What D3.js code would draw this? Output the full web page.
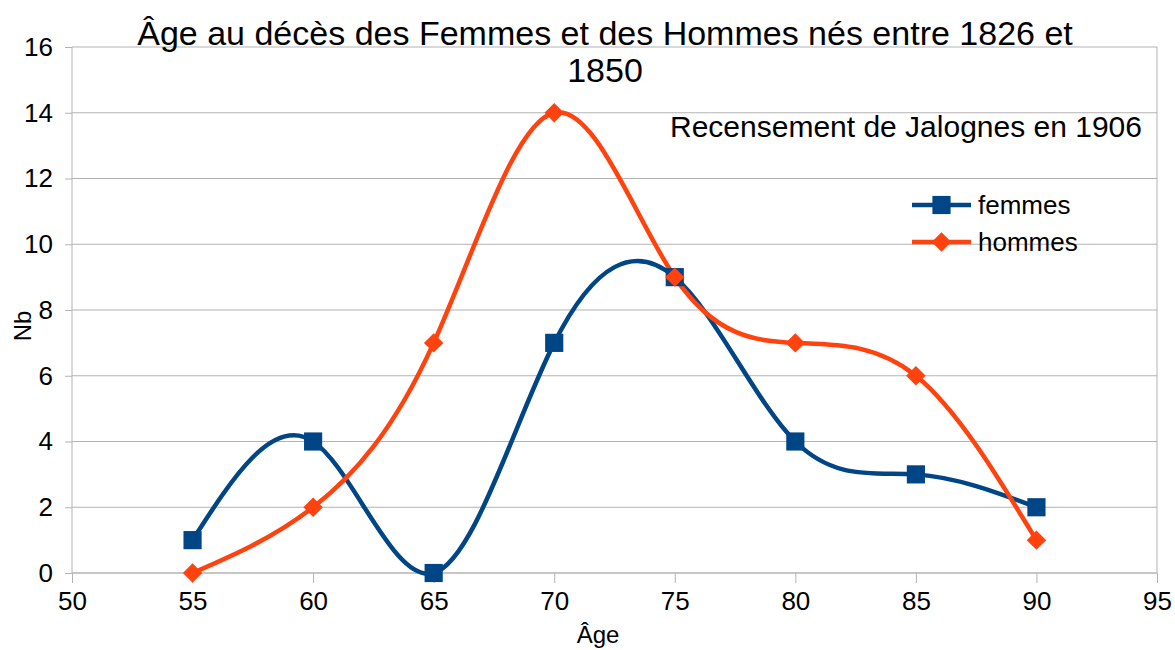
<!DOCTYPE html>
<html>
<head>
<meta charset="utf-8">
<script src="https://cdn.jsdelivr.net/npm/d3@7"></script>
<style>
  body { margin: 0; background: #fff; }
  text { font-family: "Liberation Sans", Arial, sans-serif; fill: #000; }
</style>
</head>
<body>
<svg id="chart" width="1175" height="650"></svg>
<script>
const ages = [55, 60, 65, 70, 75, 80, 85, 90];
const femmes = [1, 4, 0, 7, 9, 4, 3, 2];
const hommes = [0, 2, 7, 14, 9, 7, 6, 1];
const xTicks = [50, 55, 60, 65, 70, 75, 80, 85, 90, 95];
const yTicks = [0, 2, 4, 6, 8, 10, 12, 14, 16];
const titleLines = ["Âge au décès des Femmes et des Hommes nés entre 1826 et", "1850"];
const subtitle = "Recensement de Jalognes en 1906";

const svg = d3.select("svg#chart");

// plot area
const padding = { top: 47, right: 18, bottom: 77, left: 72 };
const chartArea = {
  width: +svg.attr("width") - padding.left - padding.right,
  height: +svg.attr("height") - padding.top - padding.bottom
};

const xScale = d3.scaleLinear().domain([50, 95]).range([0, chartArea.width]);
const yScale = d3.scaleLinear().domain([0, 16]).range([chartArea.height, 0]);

const g = svg.append("g")
  .attr("transform", `translate(${padding.left}, ${padding.top})`);

// gridlines
g.append("g")
  .selectAll("line")
  .data(yTicks)
  .enter()
  .append("line")
  .attr("x1", 0)
  .attr("x2", chartArea.width)
  .attr("y1", d => yScale(d))
  .attr("y2", d => yScale(d))
  .attr("stroke", "#b3b3b3")
  .attr("stroke-width", 1);

// right border
g.append("line")
  .attr("x1", chartArea.width).attr("x2", chartArea.width)
  .attr("y1", 0).attr("y2", chartArea.height)
  .attr("stroke", "#b3b3b3");

// axes
const xAxis = g.append("g")
  .attr("transform", `translate(0, ${chartArea.height})`)
  .call(d3.axisBottom(xScale).tickValues(xTicks).tickSize(10).tickPadding(9).tickFormat(d3.format("d")));

const yAxis = g.append("g")
  .call(d3.axisLeft(yScale).tickValues(yTicks).tickSize(7).tickPadding(12).tickFormat(d3.format("d")));

[xAxis, yAxis].forEach(a => {
  a.select(".domain").attr("stroke", "#b3b3b3");
  a.selectAll(".tick line").attr("stroke", "#b3b3b3");
  a.selectAll(".tick text").style("font-size", "26px").attr("fill", "#000");
});
xAxis.select(".domain").attr("d", `M0,0H${chartArea.width}`);
yAxis.select(".domain").attr("d", `M0,0V${chartArea.height}`);

// lines
const diamond = d3.symbol().type(d3.symbolSquare).size(190);
const series = [
  { name: "femmes", values: femmes, color: "#004586", marker: d3.symbol().type(d3.symbolSquare).size(330), rot: 0 },
  { name: "hommes", values: hommes, color: "#ff420e", marker: diamond, rot: 45 }
];

const line = d3.line()
  .x(d => xScale(d[0]))
  .y(d => yScale(d[1]))
  .curve(d3.curveNatural);

series.forEach(s => {
  const pts = ages.map((a, i) => [a, s.values[i]]);
  g.append("path")
    .datum(pts)
    .attr("d", line)
    .attr("fill", "none")
    .attr("stroke", s.color)
    .attr("stroke-width", 4.5);
});

series.forEach(s => {
  const pts = ages.map((a, i) => [a, s.values[i]]);
  g.append("g")
    .selectAll("path")
    .data(pts)
    .enter()
    .append("path")
    .attr("d", s.marker)
    .attr("transform", d => `translate(${xScale(d[0])}, ${yScale(d[1])}) rotate(${s.rot})`)
    .attr("fill", s.color);
});

// legend
const legend = svg.append("g").attr("transform", "translate(912, 205)");
series.forEach((s, i) => {
  const row = legend.append("g").attr("transform", `translate(0, ${i * 37})`);
  row.append("line").attr("x1", 0).attr("x2", 59).attr("y1", 0).attr("y2", 0)
    .attr("stroke", s.color).attr("stroke-width", 4.5);
  row.append("path")
    .attr("d", s.marker)
    .attr("transform", `translate(29.5, 0) rotate(${s.rot})`)
    .attr("fill", s.color);
  row.append("text").attr("x", 66).attr("y", 9).style("font-size", "26px").text(s.name);
});

// titles
svg.append("g")
  .selectAll("text")
  .data(titleLines)
  .enter()
  .append("text")
  .attr("x", 605)
  .attr("y", (d, i) => 45 + i * 37)
  .attr("text-anchor", "middle")
  .style("font-size", "34px")
  .text(d => d);

svg.append("text")
  .attr("x", 1142).attr("y", 137)
  .attr("text-anchor", "end")
  .style("font-size", "30px")
  .text(subtitle);

svg.append("text")
  .attr("transform", "translate(31, 326) rotate(-90)")
  .attr("text-anchor", "middle")
  .style("font-size", "24px")
  .text("Nb");

svg.append("text")
  .attr("x", 598).attr("y", 643)
  .attr("text-anchor", "middle")
  .style("font-size", "24px")
  .text("Âge");
</script>
</body>
</html>
